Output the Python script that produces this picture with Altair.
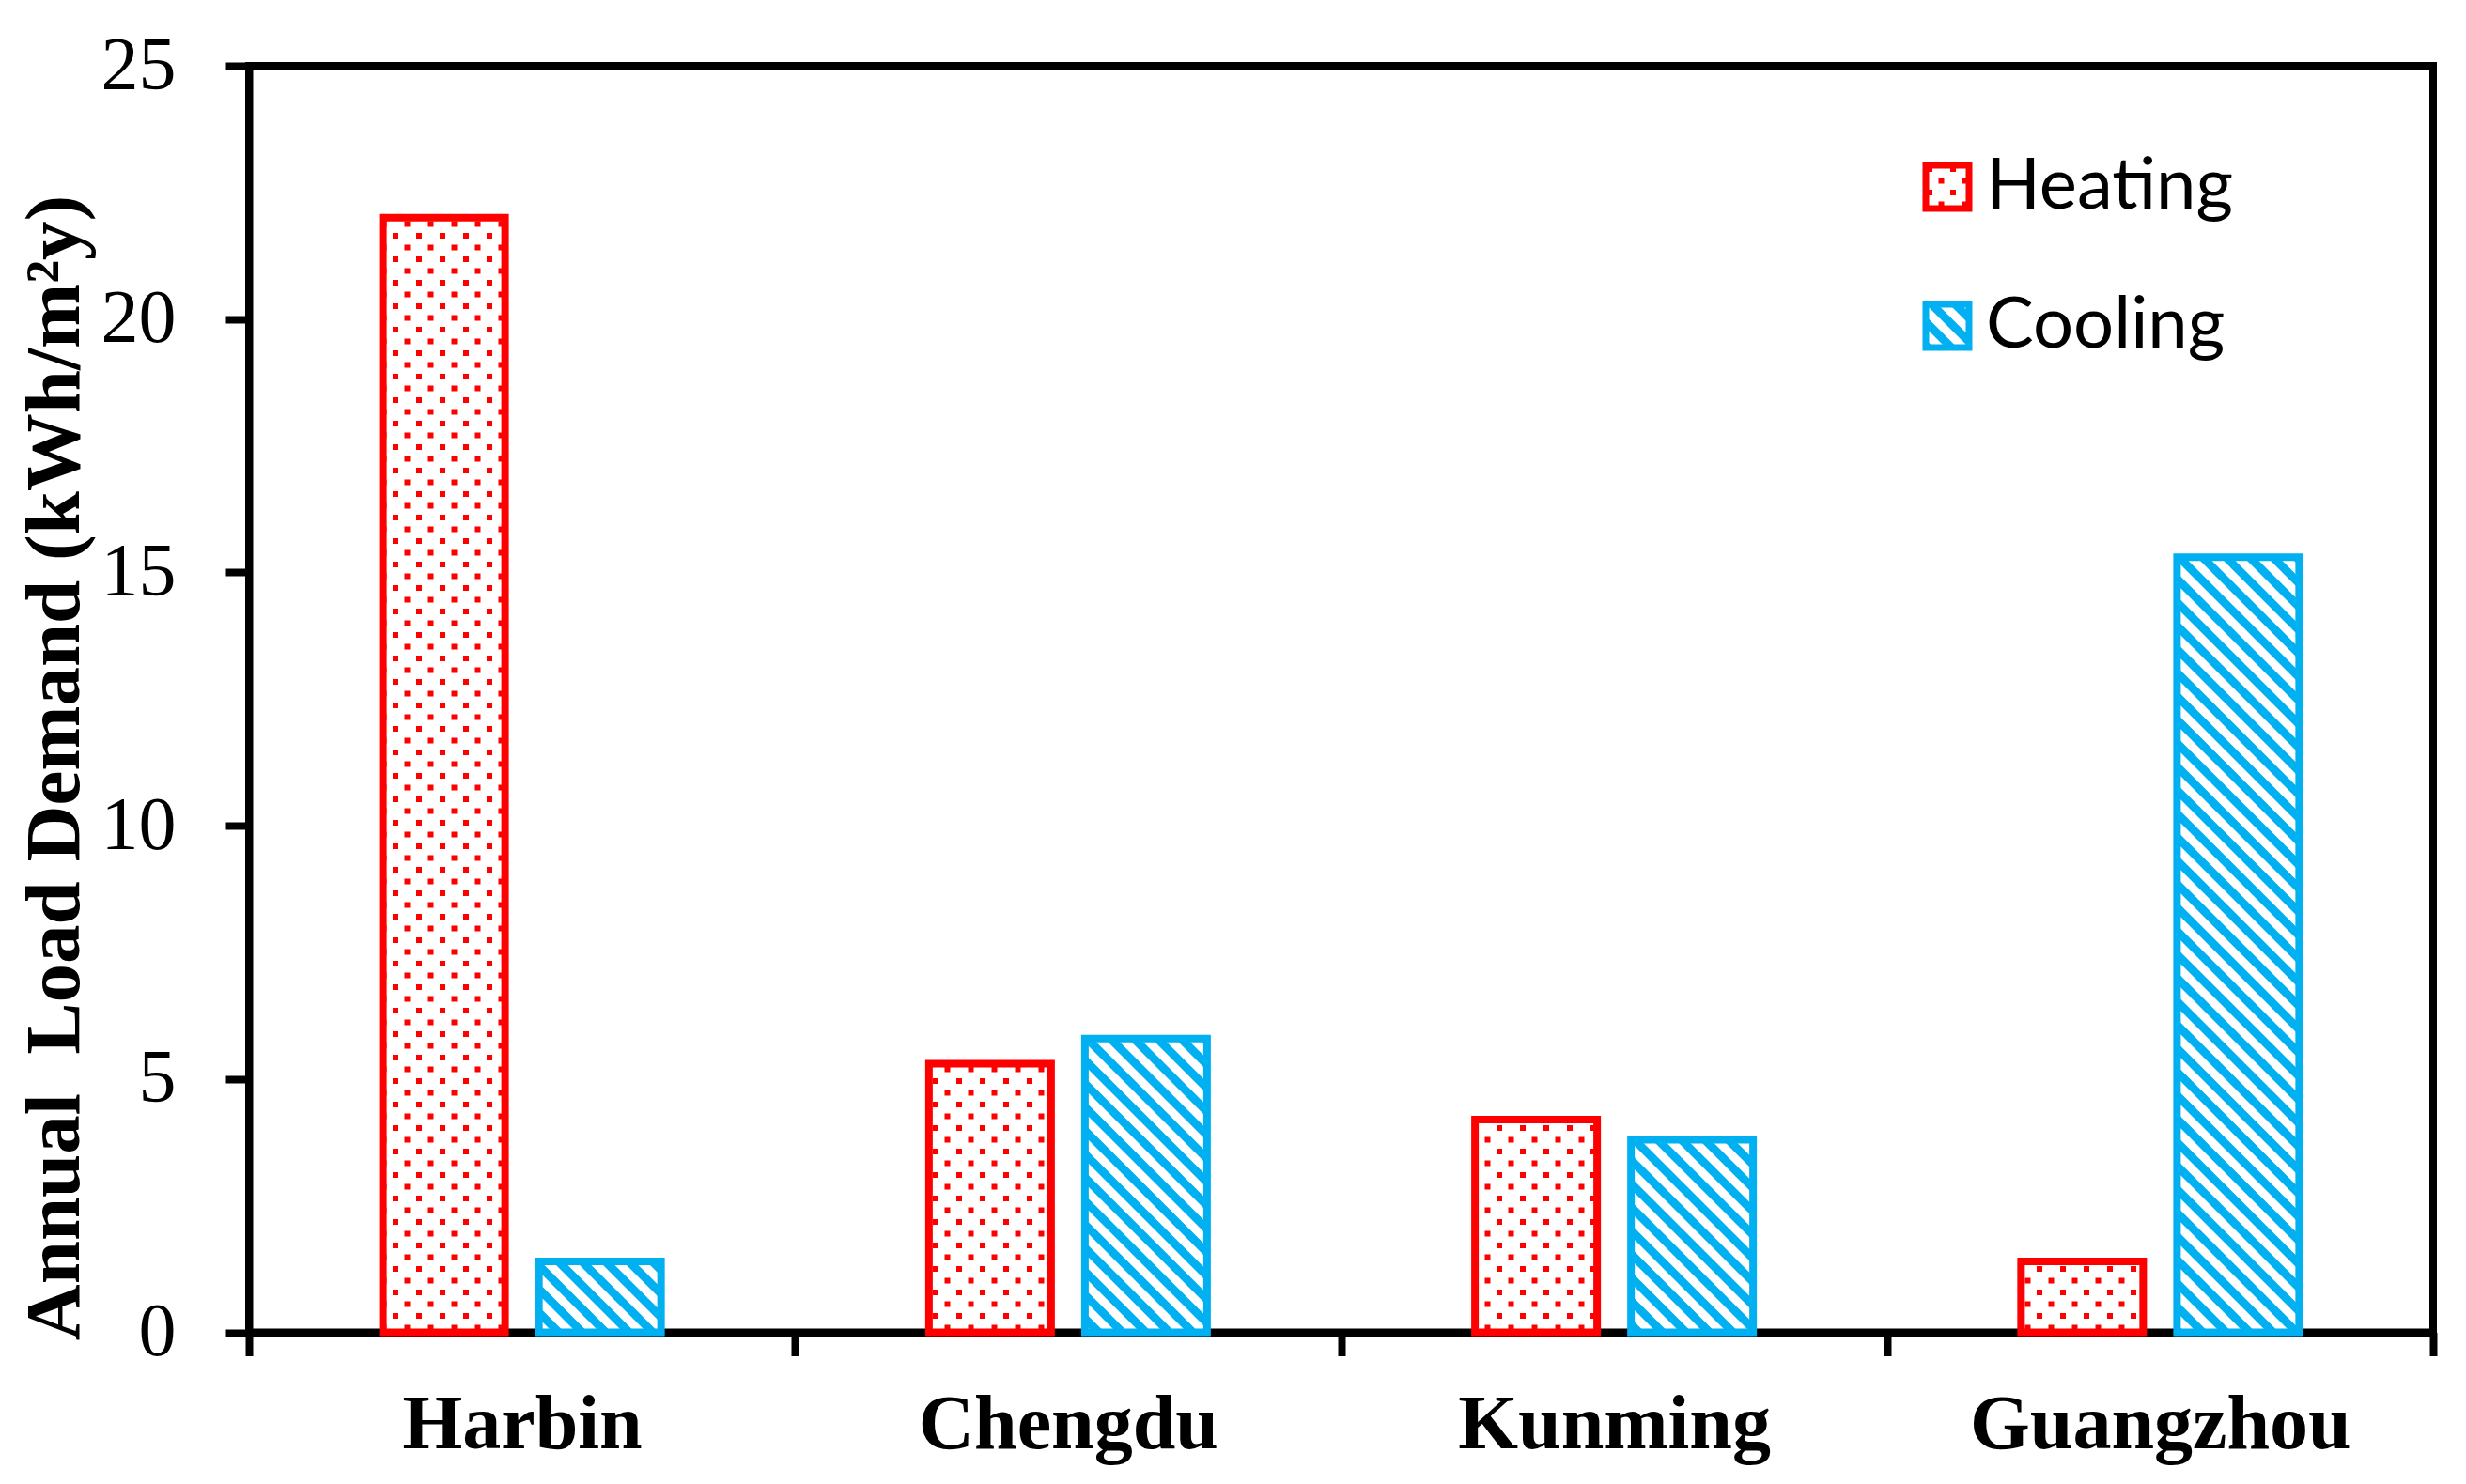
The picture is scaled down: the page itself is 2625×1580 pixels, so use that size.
import altair as alt
import pandas as pd
import jinja2

# ---- data ----
cities = ["Harbin", "Chengdu", "Kunming", "Guangzhou"]
series = ["Heating", "Cooling"]
heating = [22.0, 5.3, 4.2, 1.4]
cooling = [1.4, 5.8, 3.8, 15.3]
y_ticks = [0, 5, 10, 15, 20, 25]

stroke_colors = ["#FF0000", "#00B0F0"]
fill_patterns = ["url(#dots)", "url(#hatch)"]

rows = []
for i, c in enumerate(cities):
    rows.append({"City": c, "Type": "Heating", "Value": heating[i]})
    rows.append({"City": c, "Type": "Cooling", "Value": cooling[i]})
df = pd.DataFrame(rows)

PLOT_W = 2325
PLOT_H = 1348.5

chart = (
    alt.Chart(df)
    .mark_bar(strokeWidth=8, strokeJoin="miter")
    .encode(
        x=alt.X(
            "City:N",
            sort=cities,
            scale=alt.Scale(paddingInner=0, paddingOuter=0),
            axis=alt.Axis(
                title=None,
                labelAngle=0,
                labelFont="Liberation Serif",
                labelFontWeight="bold",
                labelFontSize=82,
                labelBaseline="alphabetic",
                labelPadding=98,
                labelLimit=0,
                tickBand="extent",
                tickSize=25,
            ),
        ),
        xOffset=alt.XOffset(
            "Type:N",
            sort=series,
            scale=alt.Scale(domain=series, paddingInner=0.217, paddingOuter=0.859),
        ),
        y=alt.Y(
            "Value:Q",
            scale=alt.Scale(domain=[0, 25], nice=False),
            axis=alt.Axis(
                values=y_ticks,
                title="Annual\u00a0 Load Demand (kWh/m\u00b2y)",
                titleFont="Liberation Serif",
                titleFontWeight="bold",
                titleFontSize=83,
                titleAngle=270,
                titleAlign="center",
                titleBaseline="alphabetic",
                titleX=-182,
                titleY=747,
                titleLimit=0,
                labelFont="Liberation Serif",
                labelFontSize=80,
                labelPadding=53,
                labelBaseline="middle",
                labelLimit=0,
                tickSize=25,
            ),
        ),
        fill=alt.Fill(
            "Type:N",
            sort=series,
            scale=alt.Scale(domain=series, range=fill_patterns),
            legend=alt.Legend(title=None),
        ),
        stroke=alt.Stroke(
            "Type:N",
            sort=series,
            scale=alt.Scale(domain=series, range=stroke_colors),
            legend=alt.Legend(title=None),
        ),
    )
    .properties(
        width=PLOT_W,
        height=PLOT_H,
        autosize=alt.AutoSizeParams(type="none"),
        padding={"left": 257, "top": 62, "right": 20, "bottom": 150},
        background="white",
    )
    .configure_view(stroke="black", strokeWidth=8)
    .configure_axis(
        domainColor="black",
        domainWidth=8,
        tickColor="black",
        tickWidth=8,
        labelColor="black",
        titleColor="black",
        grid=False,
    )
    .configure_legend(
        orient="none",
        legendX=1770,
        legendY=91,
        symbolType="square",
        symbolSize=2116,
        symbolStrokeWidth=7,
        labelFont="Lato",
        labelFontSize=76,
        labelColor="black",
        labelOffset=3,
        labelLimit=0,
        rowPadding=72,
        padding=0,
        offset=0,
    )
)

TEMPLATE = jinja2.Template("""<!DOCTYPE html>
<html>
<head>
  <meta charset="utf-8">
  <style>
    #{{ output_div }}.vega-embed { width: 100%; display: flex; }
    #{{ output_div }}.vega-embed details,
    #{{ output_div }}.vega-embed details summary { position: relative; }
  </style>
  <script type="text/javascript" src="{{ base_url }}/vega@{{ vega_version }}"></script>
  <script type="text/javascript" src="{{ base_url }}/vega-lite@{{ vegalite_version }}"></script>
  <script type="text/javascript" src="{{ base_url }}/vega-embed@{{ vegaembed_version }}"></script>
</head>
<body>
  <svg width="0" height="0" style="position:absolute">
    <defs>
      <pattern id="dots" patternUnits="userSpaceOnUse" width="25" height="25">
        <rect x="0" y="0" width="25" height="25" fill="#FFFFFF"/>
        <rect x="3" y="3" width="6" height="6" fill="#FF0000"/>
        <rect x="15.5" y="15.5" width="6" height="6" fill="#FF0000"/>
      </pattern>
      <pattern id="hatch" patternUnits="userSpaceOnUse" width="25" height="25">
        <rect x="0" y="0" width="25" height="25" fill="#FFFFFF"/>
        <polygon points="0,0 12.5,0 25,12.5 25,25" fill="#00B0F0"/>
        <polygon points="0,12.5 12.5,25 0,25" fill="#00B0F0"/>
      </pattern>
    </defs>
  </svg>
  <div id="{{ output_div }}"></div>
  <script>
    (function(vegaEmbed) {
      var spec = {{ spec }};
      var embedOpt = {{ embed_options }};
      function showError(el, error){
          el.innerHTML = ('<div style="color:red;"><p>JavaScript Error: ' + error.message + '</p></div>');
          throw error;
      }
      const el = document.getElementById('{{ output_div }}');
      vegaEmbed("#{{ output_div }}", spec, embedOpt).catch(error => showError(el, error));
    })(vegaEmbed);
  </script>
</body>
</html>
""")

try:
    chart.save("out.html", embed_options={"renderer": "svg", "actions": False}, template=TEMPLATE)
except Exception:
    chart.save("out.html", embed_options={"renderer": "svg", "actions": False})
